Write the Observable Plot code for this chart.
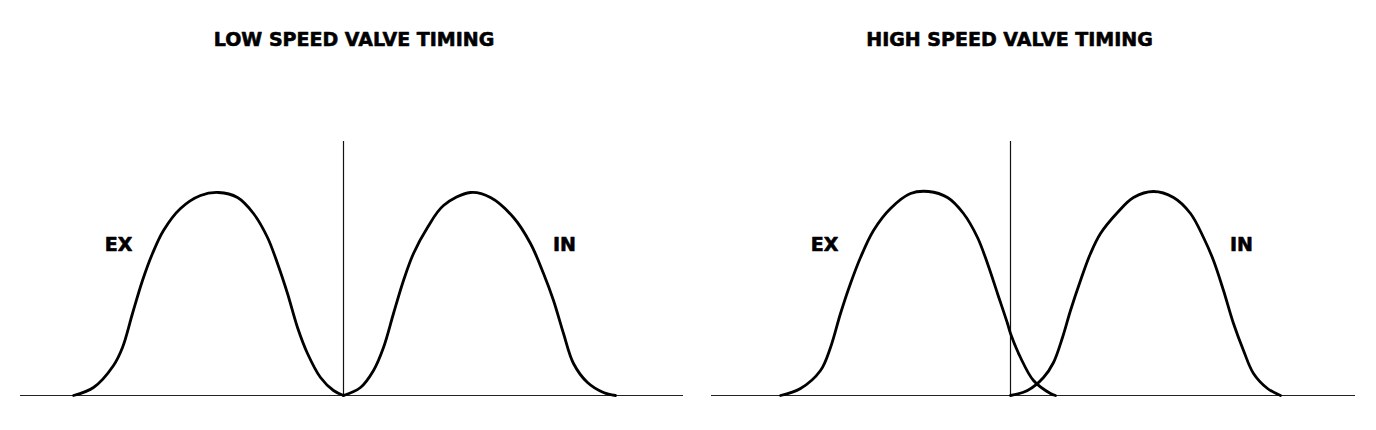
<!DOCTYPE html>
<html>
<head>
<meta charset="utf-8">
<script src="https://cdn.jsdelivr.net/npm/d3@7"></script>
<script src="https://cdn.jsdelivr.net/npm/@observablehq/plot@0.6"></script>
<style>
  html, body { margin: 0; padding: 0; background: #fff; }
  #wrap { display: flex; width: 1376px; height: 430px; }
  #wrap svg { display: block; }
</style>
</head>
<body>
<div id="wrap"></div>
<script>
// Panel titles
const panelTitles = ["LOW SPEED VALVE TIMING", "HIGH SPEED VALVE TIMING"];
const valveNames = ["EX", "IN"];

// Low speed: crank angle (deg, 0 = TDC marker line) and valve lift (arbitrary units)
const lowExAngle = [-270, -250, -230, -221, -211, -201, -191, -180, -163, -143, -125, -106, -90, -76, -66, -56, -46, -36, -23, -10, 0];
const lowExLift  = [0, 0.4, 1.5, 2.4, 4.1, 5.75, 7.1, 8.25, 9.35, 10.0, 10.15, 9.9, 9.1, 7.9, 6.6, 5.1, 3.4, 2.1, 0.9, 0.25, 0];

const lowInAngle = [0, 17, 30, 40, 50, 60, 70, 84, 100, 127, 147, 170, 187, 200, 210, 220, 230, 244, 260, 272];
const lowInLift  = [0, 0.4, 1.25, 2.4, 4.1, 5.75, 7.1, 8.4, 9.5, 10.15, 9.9, 8.9, 7.6, 6.1, 4.75, 3.1, 1.6, 0.65, 0.15, 0];

// High speed
const highExAngle = [-230, -210, -190, -180, -170, -160, -150, -137, -120, -100, -82, -63, -47, -33, -23, -13, -3, 0, 10, 23, 40, 45];
const highExLift  = [0, 0.35, 1.25, 2.4, 4.1, 5.6, 6.9, 8.25, 9.35, 10.1, 10.2, 9.9, 9.1, 7.9, 6.6, 5.1, 3.6, 3.1, 1.9, 0.75, 0.1, 0];

const highInAngle = [0, 17, 33, 43, 52, 60, 70, 80, 90, 107, 123, 143, 163, 180, 193, 203, 213, 223, 233, 243, 257, 270];
const highInLift  = [0, 0.25, 0.9, 1.65, 2.9, 4.25, 5.75, 7.1, 8.1, 9.15, 9.9, 10.2, 9.9, 9.1, 7.9, 6.75, 5.25, 3.6, 2.25, 1.1, 0.35, 0];

// Label anchor positions (crank angle, lift)
const lowLabelAngle  = [-225, 221];
const highLabelAngle = [-186, 231];
const labelLift = [7.55, 7.55];

// Axis extents (crank angle)
const lowDomain  = [-323, 340];
const highDomain = [-299, 345];
const liftDomain = [0, 12.7];

function toRows(valve, angles, lifts) {
  return angles.map((a, i) => ({valve, angle: a, lift: lifts[i]}));
}

const lowSeries = [
  ...toRows(valveNames[0], lowExAngle, lowExLift),
  ...toRows(valveNames[1], lowInAngle, lowInLift)
];
const highSeries = [
  ...toRows(valveNames[0], highExAngle, highExLift),
  ...toRows(valveNames[1], highInAngle, highInLift)
];
const lowLabels = valveNames.map((v, i) => ({valve: v, angle: lowLabelAngle[i], lift: labelLift[i]}));
const highLabels = valveNames.map((v, i) => ({valve: v, angle: highLabelAngle[i], lift: labelLift[i]}));

const FONT = "DejaVu Sans";

function panel(title, series, labels, domain, mL, mR, titleDx) {
  return Plot.plot({
    width: 688,
    height: 430,
    marginLeft: mL,
    marginRight: mR,
    marginTop: 141,
    marginBottom: 35,
    x: {domain, axis: null},
    y: {domain: liftDomain, axis: null},
    marks: [
      Plot.ruleY([0], {stroke: "#222", strokeWidth: 1}),
      Plot.ruleX([0], {stroke: "#111", strokeWidth: 1.2}),
      Plot.line(series, {
        x: "angle", y: "lift", z: "valve",
        stroke: "#000", strokeWidth: 2.8, curve: "catmull-rom",
        strokeLinecap: "round", strokeLinejoin: "round"
      }),
      Plot.text(labels, {
        x: "angle", y: "lift", text: "valve",
        fontFamily: FONT, fontSize: 19, fontWeight: "bold",
        fill: "#000", stroke: "#000", strokeWidth: 0.6,
        textAnchor: "middle", lineAnchor: "middle"
      }),
      Plot.text([title], {
        text: d => d, frameAnchor: "top", dy: -102, dx: titleDx,
        fontFamily: FONT, fontSize: 19, fontWeight: "bold",
        fill: "#000", stroke: "#000", strokeWidth: 0.6,
        textAnchor: "middle", lineAnchor: "middle"
      })
    ]
  });
}

const wrap = document.getElementById("wrap");
wrap.append(panel(panelTitles[0], lowSeries, lowLabels, lowDomain, 20, 5, 2));
wrap.append(panel(panelTitles[1], highSeries, highLabels, highDomain, 23, 21, -24));
</script>
</body>
</html>
